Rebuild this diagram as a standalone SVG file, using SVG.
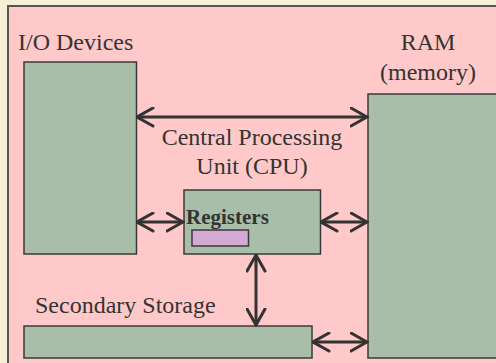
<svg xmlns="http://www.w3.org/2000/svg" width="496" height="363" viewBox="0 0 496 363">
<style>
.box{fill:#a9bea8;stroke:#3a3a3a;stroke-width:1.5}
.lbl{font-family:"Liberation Serif","Times New Roman",serif;font-size:24px;fill:#333}
.bold{font-family:"Liberation Serif","Times New Roman",serif;font-size:21px;font-weight:bold;fill:#333}
.conn{stroke:#333;stroke-width:3;fill:none;marker-start:url(#ah);marker-end:url(#ah)}
</style>
<defs>
<marker id="ah" viewBox="0 0 19 21" refX="17.5" refY="10.5" markerWidth="19" markerHeight="21" markerUnits="userSpaceOnUse" orient="auto-start-reverse">
<path d="M1.5,1.5 L17.5,10.5 L1.5,19.5" fill="none" stroke="#333" stroke-width="3" stroke-linecap="round" stroke-linejoin="miter"/>
</marker>
</defs>
<rect x="0" y="0" width="496" height="363" fill="#f7eed6"/>
<rect x="8" y="6" width="500" height="370" fill="#ffc9c9" stroke="#555" stroke-width="2"/>
<g id="io">
<text class="lbl" x="18" y="50">I/O Devices</text>
<rect class="box" x="24" y="62" width="112.5" height="192"/>
</g>
<g id="ram">
<text class="lbl" x="428" y="50" text-anchor="middle">RAM</text>
<text class="lbl" x="428" y="80" text-anchor="middle">(memory)</text>
<rect class="box" x="368" y="94" width="140" height="264"/>
</g>
<g id="cpu">
<text class="lbl" x="252" y="145" text-anchor="middle">Central Processing</text>
<text class="lbl" x="252" y="174" text-anchor="middle">Unit (CPU)</text>
<rect class="box" x="184" y="190" width="136.5" height="64"/>
<text class="bold" x="186" y="224">Registers</text>
<rect x="192" y="230" width="56.5" height="16" fill="#d4aad4" stroke="#3a3a3a" stroke-width="1.5"/>
</g>
<g id="storage">
<text class="lbl" x="35" y="313">Secondary Storage</text>
<rect class="box" x="24" y="326" width="288" height="32"/>
</g>
<g id="connectors">
<line class="conn" x1="137" y1="117" x2="367" y2="117"/>
<line class="conn" x1="137" y1="222" x2="183" y2="222"/>
<line class="conn" x1="321" y1="222" x2="367" y2="222"/>
<line class="conn" x1="256" y1="255" x2="256" y2="325"/>
<line class="conn" x1="313" y1="342" x2="367" y2="342"/>
</g>
</svg>
